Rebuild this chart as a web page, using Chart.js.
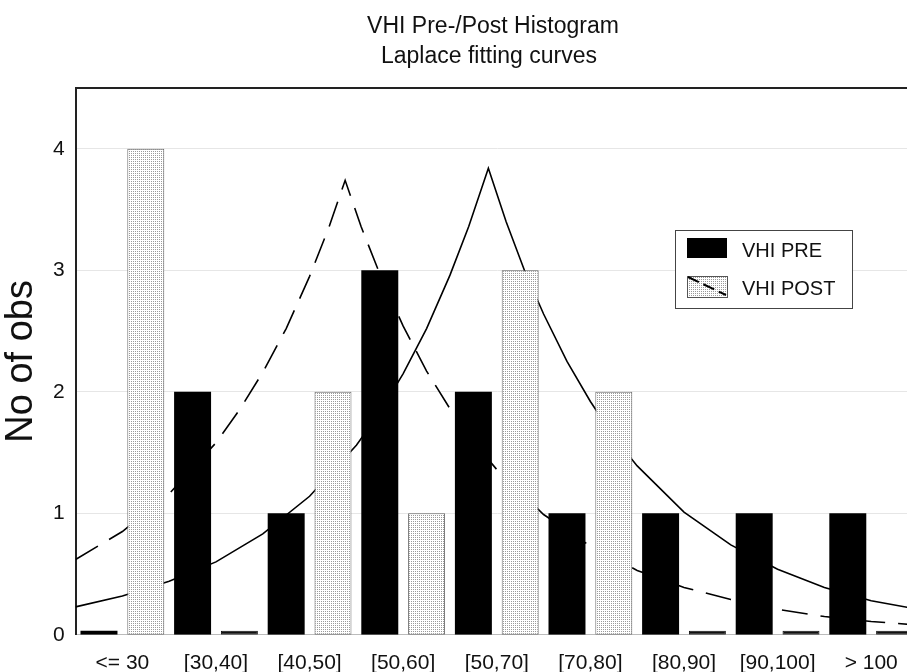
<!DOCTYPE html>
<html>
<head>
<meta charset="utf-8">
<title>VHI Pre-/Post Histogram</title>
<script src="https://cdn.jsdelivr.net/npm/chart.js@4.4.1/dist/chart.umd.min.js"></script>
<style>
  html, body { margin: 0; padding: 0; background: #fff; overflow: hidden; }
  #wrap { position: relative; width: 907px; height: 672px; overflow: hidden; }
  #wrap canvas { position: absolute; left: 0; top: 0; }
</style>
</head>
<body>
<div id="wrap">
  <canvas id="curves" width="920" height="672"></canvas>
  <canvas id="bars" width="920" height="672"></canvas>
</div>
<script>
// histogram bins
const categories = ['<= 30', '[30,40]', '[40,50]', '[50,60]', '[50,70]', '[70,80]', '[80,90]', '[90,100]', '> 100'];
const vhiPre = [0, 2, 1, 3, 2, 1, 1, 1, 1];
const vhiPost = [4, 0, 2, 1, 3, 2, 0, 0, 0];
const yTicks = [0, 1, 2, 3, 4];

// Laplace fits, x in bin units (bin i covers i..i+1)
const preFitX = [0, 0.5, 1, 1.5, 2, 2.5, 3, 3.25, 3.5, 3.75, 4, 4.2, 4.41, 4.6, 4.8, 5, 5.25, 5.5, 5.75, 6, 6.5, 7, 7.5, 8, 8.5, 9];
const preFitY = [0.23, 0.32, 0.44, 0.60, 0.83, 1.14, 1.56, 1.83, 2.15, 2.52, 2.96, 3.36, 3.84, 3.40, 2.99, 2.64, 2.25, 1.92, 1.63, 1.39, 1.01, 0.74, 0.54, 0.39, 0.28, 0.21];
const postFitX = [0, 0.5, 1, 1.5, 1.75, 2, 2.25, 2.5, 2.7, 2.88, 3.05, 3.25, 3.5, 3.75, 4, 4.25, 4.5, 5, 5.5, 6, 6.5, 7, 7.5, 8, 8.5, 9];
const postFitY = [0.62, 0.85, 1.16, 1.58, 1.85, 2.16, 2.52, 2.95, 3.34, 3.74, 3.36, 2.97, 2.54, 2.17, 1.86, 1.59, 1.36, 0.99, 0.73, 0.53, 0.39, 0.29, 0.21, 0.15, 0.11, 0.08];

const FONT = "'Liberation Sans', Arial, sans-serif";
Chart.defaults.font.family = FONT;
Chart.defaults.color = '#111';

const barCtx = document.getElementById('bars').getContext('2d');

// fine gray dot fill used for the POST bars
function dotPattern() {
  const c = document.createElement('canvas');
  c.width = 2; c.height = 2;
  const g = c.getContext('2d');
  g.fillStyle = '#fff';
  g.fillRect(0, 0, 2, 2);
  g.fillStyle = '#9a9a9a';
  g.fillRect(1, 1, 1, 1);
  return barCtx.createPattern(c, 'repeat');
}
const dots = dotPattern();

const titles = {
  id: 'titles',
  afterDraw(chart) {
    const c = chart.ctx;
    c.save();
    c.fillStyle = '#111';
    c.textAlign = 'center';
    c.textBaseline = 'alphabetic';
    c.font = '23px ' + FONT;
    c.fillText('VHI Pre-/Post Histogram', 493, 33);
    c.fillText('Laplace fitting curves', 489, 63);
    c.restore();
  }
};

const legendBox = {
  id: 'legendBox',
  afterDraw(chart) {
    const c = chart.ctx;
    c.save();
    c.fillStyle = '#fff';
    c.fillRect(675, 230, 177, 78);
    c.strokeStyle = '#444';
    c.lineWidth = 1;
    c.strokeRect(675.5, 230.5, 177, 78);

    c.fillStyle = '#000';
    c.fillRect(687, 238, 40, 20);

    c.fillStyle = dots;
    c.fillRect(687, 276, 40, 21);
    c.strokeStyle = '#555';
    c.strokeRect(687.5, 276.5, 40, 21);
    c.strokeStyle = '#000';
    c.lineWidth = 2;
    c.setLineDash([12, 5]);
    c.beginPath();
    c.moveTo(688, 277);
    c.lineTo(726, 295);
    c.stroke();
    c.setLineDash([]);

    c.fillStyle = '#111';
    c.font = '20px ' + FONT;
    c.textBaseline = 'alphabetic';
    c.fillText('VHI PRE', 742, 257);
    c.fillText('VHI POST', 742, 295);
    c.restore();
  }
};

// Both layers get the same axes so their chart areas line up;
// only the lower one actually paints them.
function makeScales(show) {
  const ink = show ? '#111' : 'transparent';
  return {
    x: {
      type: 'category',
      position: 'bottom',
      offset: true,
      grid: { display: false, drawTicks: false },
      border: { display: show, color: '#bbb', width: 1 },
      ticks: { font: { size: 21 }, color: ink, padding: 16, autoSkip: false, maxRotation: 0 }
    },
    xl: {
      type: 'linear',
      position: 'top',
      min: 0,
      max: 9,
      offset: false,
      grid: { display: false, drawTicks: false },
      border: { display: show, color: '#222', width: 2 },
      ticks: { display: false }
    },
    y: {
      min: 0,
      max: 4.5,
      afterBuildTicks: axis => { axis.ticks = yTicks.map(v => ({ value: v })); },
      grid: { display: show, color: '#e6e6e6', lineWidth: 1, drawTicks: false },
      border: { display: show, color: '#222', width: 2 },
      ticks: { font: { size: 21 }, color: ink, padding: 11 },
      title: {
        display: true,
        text: 'No of obs',
        font: { size: 38, lineHeight: 1.05 },
        color: ink,
        padding: { top: 2, bottom: 0 }
      }
    }
  };
}

const common = {
  responsive: false,
  animation: false,
  layout: { padding: { top: 88, left: 0, right: 2, bottom: -20 } },
  plugins: {
    legend: { display: false },
    tooltip: { enabled: false },
    title: { display: false }
  }
};

// lower layer: axes, grid and the two fitted curves
new Chart(document.getElementById('curves'), {
  type: 'line',
  data: {
    labels: categories,
    datasets: [
      {
        label: 'PRE fit',
        data: preFitX.map((x, i) => ({ x: x, y: preFitY[i] })),
        borderColor: '#000',
        borderWidth: 1.6,
        pointRadius: 0,
        tension: 0,
        fill: false,
        xAxisID: 'xl'
      },
      {
        label: 'POST fit',
        data: postFitX.map((x, i) => ({ x: x, y: postFitY[i] })),
        borderColor: '#000',
        borderWidth: 1.6,
        borderDash: [26, 13],
        pointRadius: 0,
        tension: 0,
        fill: false,
        xAxisID: 'xl'
      }
    ]
  },
  options: Object.assign({}, common, { scales: makeScales(true) })
});

// upper layer: histogram bars, titles and legend
new Chart(barCtx, {
  type: 'bar',
  data: {
    labels: categories,
    datasets: [
      {
        label: 'VHI PRE',
        data: vhiPre,
        backgroundColor: '#000',
        borderWidth: 0
      },
      {
        label: 'VHI POST',
        data: vhiPost,
        backgroundColor: c => (c.raw === 0 ? '#111' : dots),
        borderColor: c => (c.raw === 0 ? '#111' : '#666'),
        borderWidth: 1,
        borderSkipped: false
      }
    ]
  },
  options: Object.assign({}, common, {
    minBarLength: 4,
    categoryPercentage: 1.0,
    barPercentage: 0.79,
    scales: makeScales(false)
  }),
  plugins: [titles, legendBox]
});
</script>
</body>
</html>
